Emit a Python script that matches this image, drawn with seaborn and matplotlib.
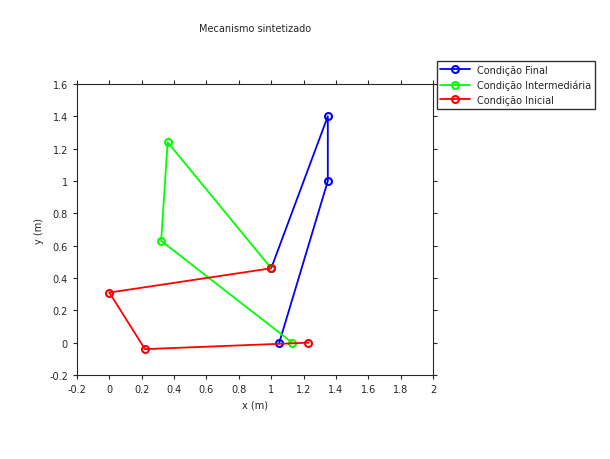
import matplotlib
matplotlib.use("Agg")
import matplotlib.pyplot as plt
import seaborn as sns
import pandas as pd

sns.set_style("ticks")
plt.rcParams['font.family'] = ['DejaVu Sans']

labels = ["Condição Final", "Condição Intermediária", "Condição Inicial"]
colors = ["#0000ff", "#00ff00", "#ff0000"]
xs = [[1.05, 1.35, 1.35, 1.00],
      [1.13, 0.32, 0.36, 1.00],
      [1.23, 0.22, 0.00, 1.00]]
ys = [[0.00, 1.00, 1.40, 0.46],
      [0.00, 0.63, 1.24, 0.46],
      [0.00, -0.04, 0.31, 0.46]]

fig = plt.figure(figsize=(6.1, 4.6), dpi=100)
ax = fig.add_axes([77/610, 1-376/460, 356/610, 291/460])
for lab, c, x, y in zip(labels, colors, xs, ys):
    df = pd.DataFrame({"x": x, "y": y, "o": range(len(x))})
    sns.lineplot(data=df, x="x", y="y", sort=False, ax=ax, color=c, marker="o",
                 markerfacecolor="none", markeredgecolor=c, markeredgewidth=1.5,
                 markersize=5, linewidth=1.3, label=lab, estimator=None)
ax.set_xlim(-0.2, 2)
ax.set_ylim(-0.2, 1.6)
ax.set_xticks([-0.2 + 0.2*i for i in range(12)])
ax.set_xticklabels(["-0.2", "0", "0.2", "0.4", "0.6", "0.8", "1", "1.2", "1.4", "1.6", "1.8", "2"])
ax.set_yticks([-0.2 + 0.2*i for i in range(10)])
ax.set_yticklabels(["-0.2", "0", "0.2", "0.4", "0.6", "0.8", "1", "1.2", "1.4", "1.6"])
ax.tick_params(labelsize=7, direction="out", length=3, top=True, right=True)
ax.set_xlabel("x (m)", fontsize=7)
ax.set_ylabel("y (m)", fontsize=7)
ax.set_title("Mecanismo sintetizado", fontsize=7, pad=38)
ax.legend(loc="upper left", bbox_to_anchor=(1.01, 1.08), fontsize=7, frameon=True,
          fancybox=False, edgecolor="black", borderaxespad=0, handlelength=3)
fig.savefig("out.png", dpi=100)
